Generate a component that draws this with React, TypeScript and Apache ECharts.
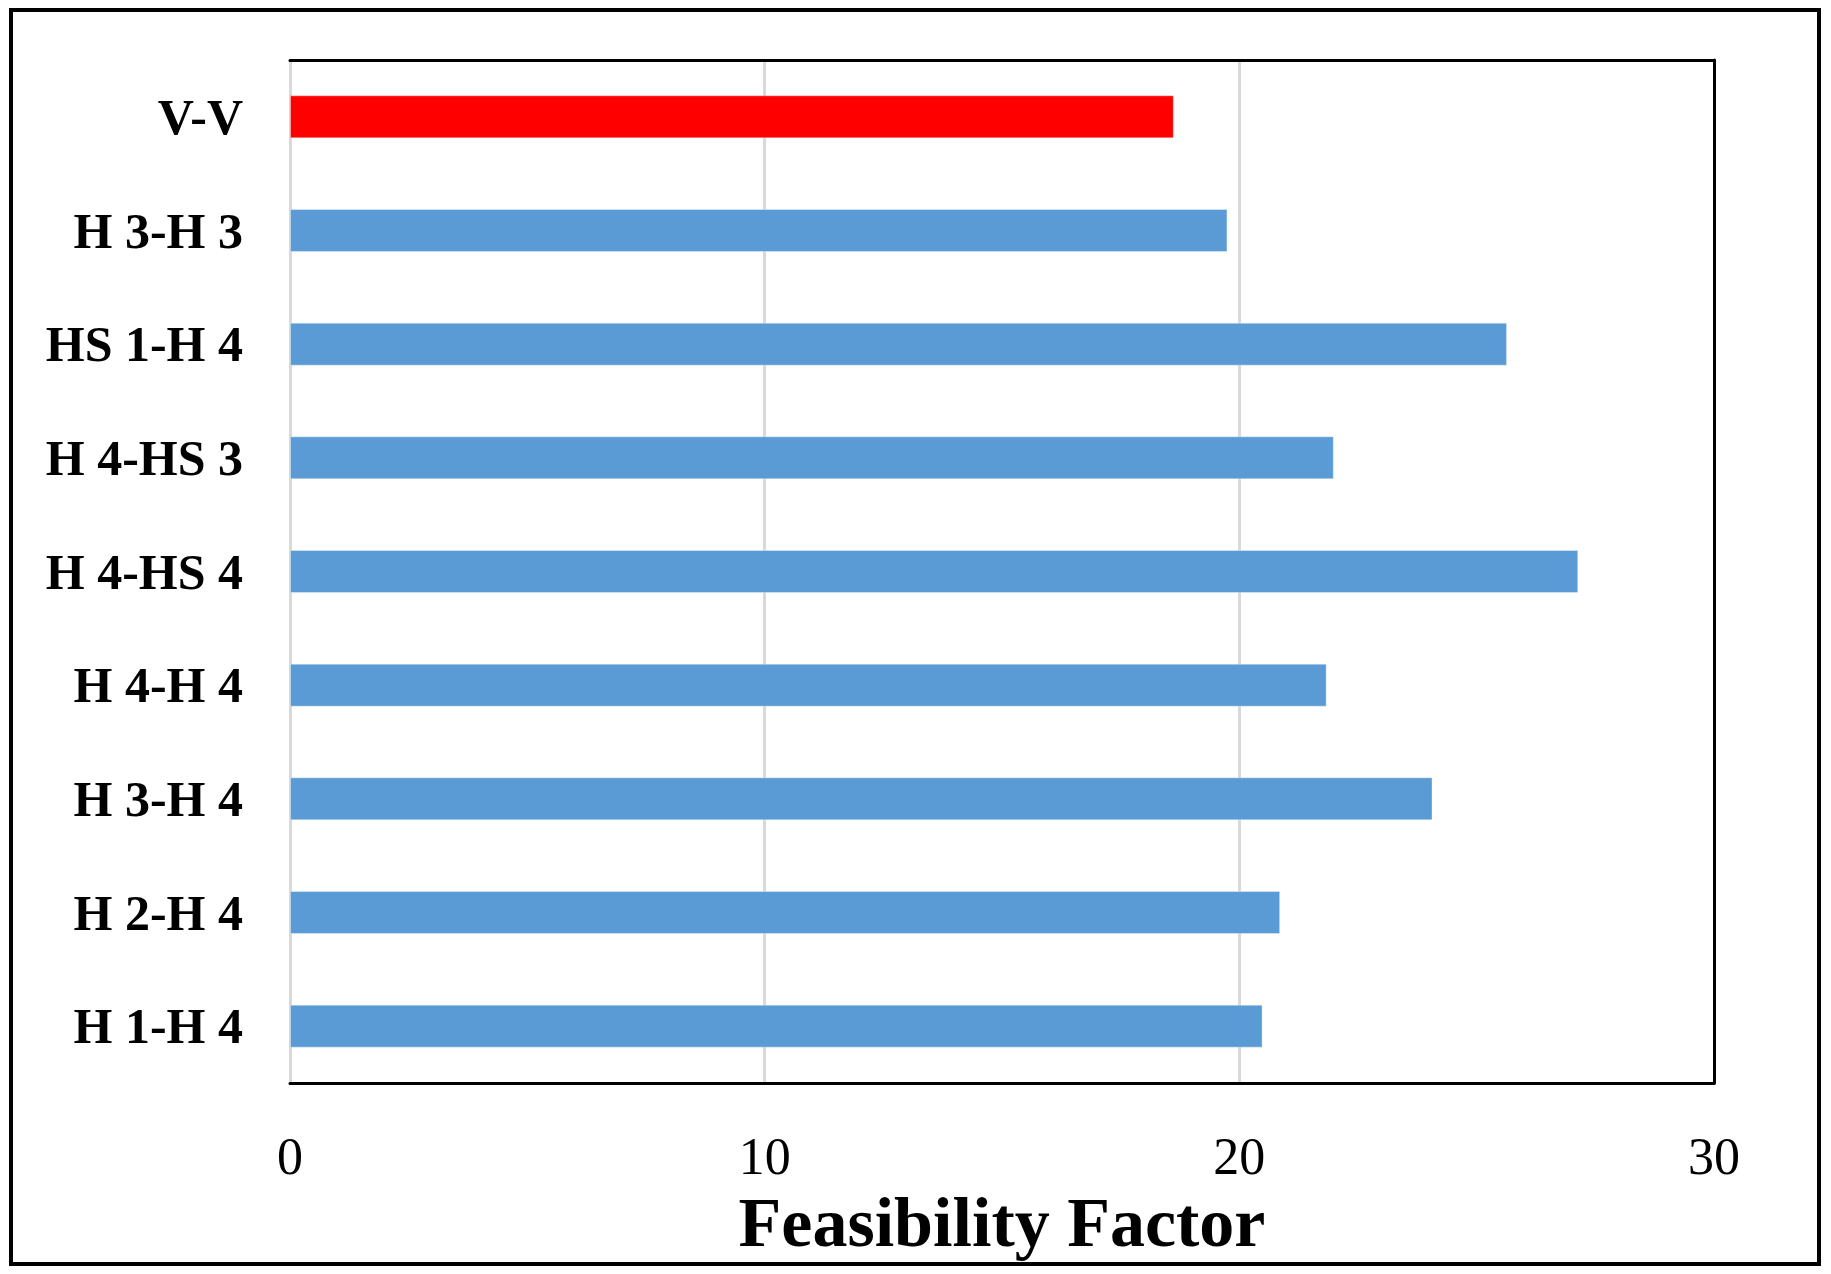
import React, { useEffect, useRef } from "react";
import * as echarts from "echarts";

const categories = ["V-V", "H 3-H 3", "HS 1-H 4", "H 4-HS 3", "H 4-HS 4", "H 4-H 4", "H 3-H 4", "H 2-H 4", "H 1-H 4"];
const values = [18.62, 19.75, 25.64, 21.99, 27.14, 21.84, 24.07, 20.86, 20.49];
const barColors = ["#ff0000", "#5b9bd5", "#5b9bd5", "#5b9bd5", "#5b9bd5", "#5b9bd5", "#5b9bd5", "#5b9bd5", "#5b9bd5"];
const axisName = "Feasibility Factor";
const xMin = 0;
const xMax = 30;
const xStep = 10;

export default function App() {
  const ref = useRef<HTMLDivElement>(null);
  useEffect(() => {
    if (!ref.current) return;
    const chart = echarts.init(ref.current, undefined, { renderer: "svg" });
    const serif = "'Liberation Serif', 'DejaVu Serif', serif";
    chart.setOption({
      animation: false,
      backgroundColor: "#ffffff",
      grid: { left: 290, right: 117, top: 60, bottom: 191, containLabel: false },
      xAxis: [
        {
          type: "value",
          min: xMin,
          max: xMax,
          interval: xStep,
          position: "bottom",
          name: axisName,
          nameLocation: "middle",
          nameGap: 104,
          nameTextStyle: { fontFamily: serif, fontWeight: "bold", fontSize: 70, color: "#000" },
          axisLine: { show: true, onZero: false, lineStyle: { color: "#000", width: 3 } },
          axisTick: { show: false },
          axisLabel: { fontFamily: serif, fontSize: 52, color: "#000", margin: 47 },
          splitLine: { show: true, lineStyle: { color: "#d9d9d9", width: 3 } },
        },
        {
          type: "value",
          min: xMin,
          max: xMax,
          interval: xStep,
          position: "top",
          axisLine: { show: true, onZero: false, lineStyle: { color: "#000", width: 3 } },
          axisTick: { show: false },
          axisLabel: { show: false },
          splitLine: { show: false },
          z: 5,
        },
      ],
      yAxis: [
        {
          type: "category",
          data: categories,
          inverse: true,
          position: "left",
          axisLine: { show: true, onZero: false, lineStyle: { color: "#d9d9d9", width: 3 } },
          axisTick: { show: false },
          axisLabel: { fontFamily: serif, fontWeight: "bold", fontSize: 50, color: "#000", margin: 47 },
          splitLine: { show: false },
        },
        {
          type: "category",
          data: categories,
          inverse: true,
          position: "right",
          axisLine: { show: true, onZero: false, lineStyle: { color: "#000", width: 3 } },
          axisTick: { show: false },
          axisLabel: { show: false },
          splitLine: { show: false },
          z: 5,
        },
      ],
      series: [
        {
          type: "bar",
          xAxisIndex: 0,
          yAxisIndex: 0,
          barWidth: 43,
          data: values.map((v, i) => ({
            value: v,
            itemStyle: { color: barColors[i] },
          })),
          itemStyle: { borderColor: "rgba(255,255,255,0.35)", borderWidth: 1 },
        },
      ],
      graphic: [
        {
          type: "rect",
          shape: { x: 11, y: 10, width: 1808, height: 1254 },
          style: { fill: "none", stroke: "#000", lineWidth: 4 },
          silent: true,
          z: 100,
        },
      ],
    });
    return () => chart.dispose();
  }, []);
  return (
    <div
      ref={ref}
      style={{ position: "fixed", left: 0, top: 0, width: 1831, height: 1274, background: "#fff" }}
    />
  );
}
